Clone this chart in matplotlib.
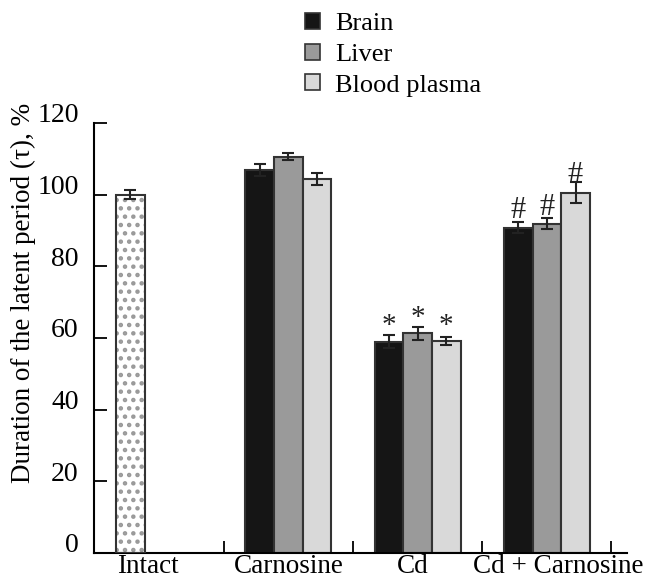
import matplotlib
matplotlib.use("Agg")
import matplotlib.pyplot as plt
import matplotlib.transforms as mtransforms
from matplotlib.patches import Patch
import numpy as np

plt.rcParams['font.family'] = ['Liberation Serif', 'DejaVu Serif']
plt.rcParams['hatch.linewidth'] = 2.0

# ---- data ----
groups = ["Intact", "Carnosine", "Cd", "Cd + Carnosine"]
series = ["Brain", "Liver", "Blood plasma"]
intact_value = 100.0
intact_err = 1.2
brain = [106.9, 59.0, 90.8]
brain_err = [1.6, 1.9, 1.5]
liver = [110.6, 61.3, 91.9]
liver_err = [0.9, 1.8, 1.5]
plasma = [104.4, 59.2, 100.6]
plasma_err = [1.7, 1.1, 2.9]
marks = ["", "*", "#"]          # significance marks for Carnosine, Cd, Cd+Carnosine
yticks = [0, 20, 40, 60, 80, 100, 120]

colors = ["#151515", "#9a9a9a", "#d9d9d9"]
edge = "#333333"
FS = 20

fig = plt.figure(figsize=(6.47, 5.8), dpi=100)
ax = fig.add_axes([94/647, 1-553/580, (627-94)/647, (553-123)/580])

w = 0.222
gx = np.arange(1, 4)
vals = [brain, liver, plasma]
errs = [brain_err, liver_err, plasma_err]

# Intact bar (dotted)
ax.bar(0 - w, intact_value, w, color="white", edgecolor="#999999", hatch="..", linewidth=0, zorder=2)
ax.bar(0 - w, intact_value, w, fill=False, edgecolor=edge, linewidth=1.5, zorder=3)
ax.errorbar(0 - w, intact_value, yerr=intact_err, fmt="none", ecolor="#222222",
            elinewidth=1.5, capsize=4, capthick=1.5, zorder=4)

for i, (v, e, c) in enumerate(zip(vals, errs, colors)):
    xs = gx + (i - 1) * w
    ax.bar(xs, v, w, color=c, edgecolor=edge, linewidth=1.5, zorder=2)
    ax.errorbar(xs, v, yerr=e, fmt="none", ecolor="#222222",
                elinewidth=1.5, capsize=4, capthick=1.5, zorder=4)
    for x, val, m in zip(xs, v, marks):
        if m:
            ax.annotate(m, (x, val), xytext=(0, 12 if m == "#" else 11),
                        textcoords="offset points", ha="center", va="center",
                        fontsize=22 if m == "#" else 21, color="#222222", zorder=5)

ax.set_xlim(-0.504, 3.62)
ax.set_ylim(0, 120)
ax.set_yticks(yticks)
ax.set_yticklabels([str(t) for t in yticks], fontsize=FS)
ax.tick_params(axis="y", direction="in", length=9, width=1.3, pad=11)
off = mtransforms.ScaledTranslation(0, 10/100, fig.dpi_scale_trans)
for lab in ax.get_yticklabels():
    lab.set_transform(lab.get_transform() + off)

label_pos = [-0.09, 1.0, 1.96, 3.09]
ax.set_xticks(label_pos)
ax.set_xticklabels(groups, fontsize=19.5)
ax.tick_params(axis="x", which="major", length=0, pad=1)
ax.set_xticks([0.5, 1.5, 2.5, 3.5], minor=True)
ax.tick_params(axis="x", which="minor", direction="in", length=9, width=1.3)

for s in ["top", "right"]:
    ax.spines[s].set_visible(False)
for s in ["left", "bottom"]:
    ax.spines[s].set_linewidth(1.5)

fig.text(23/647, 1-293/580, "Duration of the latent period (τ), %", rotation=90,
         ha="center", va="center", fontsize=19.5)

handles = [Patch(facecolor=c, edgecolor=edge, linewidth=1.2) for c in colors]
fig.legend(handles, series, loc="upper left", bbox_to_anchor=(305/647, 1-13/580),
           frameon=False, fontsize=19, handlelength=0.55, handleheight=0.55,
           handletextpad=0.6, labelspacing=0.32, borderpad=0.0, borderaxespad=0)

fig.savefig("out.png", dpi=100)
